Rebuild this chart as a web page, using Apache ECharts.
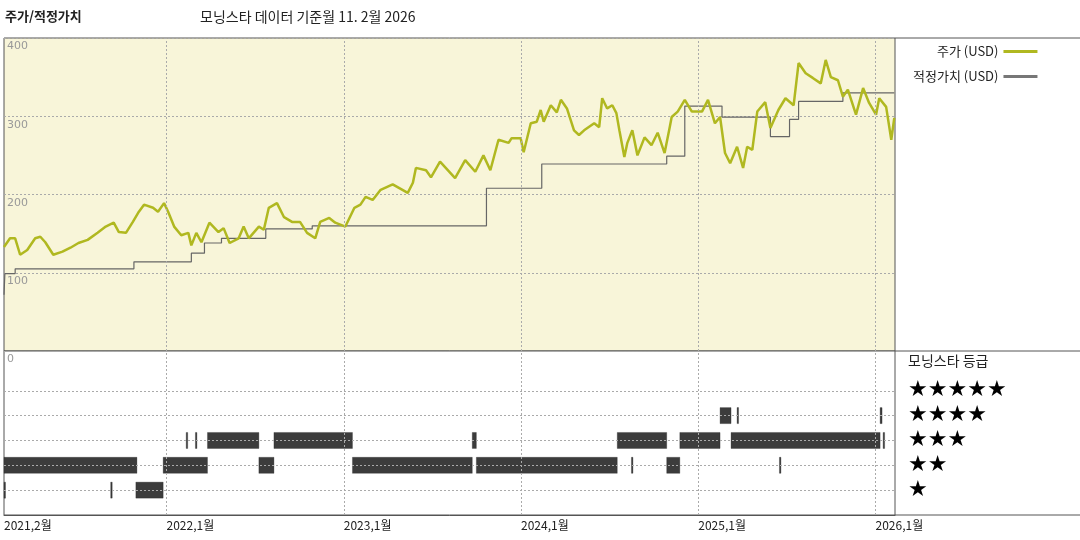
<!DOCTYPE html>
<html>
<head>
<meta charset="utf-8">
<script src="https://cdn.jsdelivr.net/npm/echarts@6/dist/echarts.min.js"></script>
<style>html,body{margin:0;padding:0;background:#fff}#main{width:1080px;height:540px}</style>
</head>
<body>
<div id="main"></div>
<script>
// 시간은 소수 연도 (예: 2021.083 = 2021년 2월 1일)
var xStart = 2021.083, xEnd = 2026.11;
var yearTicks = [2021.083, 2022, 2023, 2024, 2025, 2026];

// 주가 (USD)
var priceT = [2021.083,2021.117,2021.146,2021.174,2021.214,2021.259,2021.288,2021.316,2021.361,2021.413,2021.458,2021.503,2021.555,2021.611,2021.657,2021.702,2021.731,2021.771,2021.810,2021.844,2021.873,2021.924,2021.952,2021.986,2022.009,2022.043,2022.083,2022.123,2022.140,2022.168,2022.197,2022.242,2022.293,2022.322,2022.356,2022.407,2022.435,2022.464,2022.521,2022.549,2022.577,2022.623,2022.663,2022.708,2022.753,2022.793,2022.839,2022.867,2022.918,2022.952,2023.009,2023.060,2023.094,2023.123,2023.163,2023.208,2023.276,2023.361,2023.390,2023.407,2023.464,2023.492,2023.543,2023.628,2023.685,2023.742,2023.788,2023.827,2023.873,2023.930,2023.947,2023.998,2024.015,2024.055,2024.089,2024.111,2024.128,2024.168,2024.202,2024.225,2024.259,2024.299,2024.327,2024.356,2024.413,2024.441,2024.458,2024.486,2024.515,2024.538,2024.555,2024.583,2024.600,2024.628,2024.657,2024.697,2024.736,2024.771,2024.810,2024.839,2024.850,2024.884,2024.924,2024.964,2025.021,2025.055,2025.094,2025.123,2025.151,2025.180,2025.219,2025.253,2025.276,2025.305,2025.333,2025.378,2025.407,2025.452,2025.492,2025.538,2025.566,2025.606,2025.646,2025.691,2025.719,2025.748,2025.788,2025.816,2025.844,2025.890,2025.930,2025.964,2026.003,2026.021,2026.060,2026.089,2026.106];
var priceV = [133,144,144,123,129,144,146,139,123,127,132,138,142,151,159,164,152,151,165,178,187,183,178,189,178,159,148,151,135,151,139,164,152,157,138,144,159,144,159,155,183,189,171,165,165,151,144,165,170,164,159,183,187,197,193,206,213,202,215,234,231,222,242,221,244,229,250,231,270,266,272,272,254,291,293,308,293,314,305,321,310,282,276,282,291,286,323,310,314,304,282,248,266,282,250,273,263,279,253,286,299,306,321,306,306,321,291,299,253,240,261,234,261,257,306,318,285,308,323,314,368,355,349,342,372,350,346,325,334,302,336,317,302,323,312,270,298];

// 적정가치 (USD) - 각 값은 해당 시점부터 적용
var fairT = [2021.083,2021.088,2021.146,2021.816,2022.140,2022.214,2022.310,2022.560,2022.822,2023.805,2024.117,2024.822,2024.924,2025.134,2025.407,2025.515,2025.566,2025.816,2026.106];
var fairV = [72,99,105,114,125,138,144,156,160,208,239,249,313,299,274,296,319,330,330];

// 모닝스타 등급 구간 [시작, 끝, 별 수]
var ratingStart = [2021.083,2021.083,2021.685,2021.827,2021.981,2022.111,2022.163,2022.231,2022.521,2022.606,2023.049,2023.725,2023.748,2024.543,2024.623,2024.822,2024.896,2025.123,2025.219,2025.185,2025.458,2026.026,2026.043];
var ratingEnd   = [2021.090,2021.833,2021.692,2021.981,2022.231,2022.116,2022.168,2022.521,2022.606,2023.049,2023.725,2023.748,2024.543,2024.822,2024.628,2024.896,2025.123,2025.185,2025.224,2026.026,2025.463,2026.037,2026.050];
var ratingStars = [1,2,1,1,2,3,3,3,2,3,2,3,2,3,2,2,3,4,4,3,2,4,3];

var starLabels = ['★★★★★','★★★★','★★★','★★','★'];

var FONT = '"Noto Sans CJK KR", sans-serif';

var priceData = priceT.map(function (t, i) { return [t, priceV[i]]; });
var fairData = fairT.map(function (t, i) { return [t, fairV[i]]; });
var ratingData = ratingStart.map(function (s, i) { return [s, ratingEnd[i], ratingStars[i]]; });

var dotted = {type: [2, 2], color: '#aaa', width: 1};

var chart = echarts.init(document.getElementById('main'));
chart.setOption({
    animation: false,
    textStyle: {fontFamily: FONT},
    grid: [
        {left: 4, right: 185, top: 38, height: 313, show: true, backgroundColor: '#f8f5d9', borderColor: '#555', borderWidth: 1},
        {left: 4, right: 185, top: 351, height: 164, show: true, backgroundColor: '#fff', borderColor: '#555', borderWidth: 1}
    ],
    xAxis: [
        {type: 'value', gridIndex: 0, min: xStart, max: xEnd,
            axisLine: {show: false}, axisTick: {show: false}, axisLabel: {show: false}, splitLine: {show: false}},
        {type: 'value', gridIndex: 1, min: xStart, max: xEnd,
            axisLine: {show: true, lineStyle: {color: '#555'}}, axisTick: {show: false}, splitLine: {show: false},
            axisLabel: {show: true, customValues: yearTicks, color: '#222', fontSize: 12, align: 'left', margin: 4,
                formatter: function (v) { return v < 2022 ? '2021,2월' : Math.round(v) + ',1월'; }}}
    ],
    yAxis: [
        {type: 'value', gridIndex: 0, min: 0, max: 400, interval: 100,
            axisLine: {show: false}, axisTick: {show: false},
            axisLabel: {inside: true, verticalAlign: 'top', color: '#999', fontSize: 11, margin: 3, padding: [3, 0, 0, 0], fontFamily: 'DejaVu Sans'},
            splitLine: {show: true, lineStyle: dotted}},
        {type: 'value', gridIndex: 1, min: 0, max: 6.6,
            axisLine: {show: false}, axisTick: {show: false}, axisLabel: {show: false}, splitLine: {show: false}}
    ],
    legend: {
        show: true, orient: 'vertical', left: 908, top: 40, align: 'right', itemGap: 12,
        itemWidth: 34, itemHeight: 3, selectedMode: false,
        textStyle: {fontSize: 13, color: '#222', fontFamily: FONT},
        data: [
            {name: '주가 (USD)', icon: 'rect', itemStyle: {color: '#b0b820'}},
            {name: '적정가치 (USD)', icon: 'rect', itemStyle: {color: '#777'}}
        ]
    },
    series: [
        {name: '적정가치 (USD)', type: 'line', xAxisIndex: 0, yAxisIndex: 0, data: fairData, step: 'end',
            showSymbol: false, lineStyle: {color: '#666', width: 1.2}, itemStyle: {color: '#777'},
            markLine: {silent: true, symbol: 'none', label: {show: false}, lineStyle: dotted,
                data: [2022, 2023, 2024, 2025, 2026].map(function (v) { return {xAxis: v}; })}},
        {name: '주가 (USD)', type: 'line', xAxisIndex: 0, yAxisIndex: 0, data: priceData,
            showSymbol: false, lineStyle: {color: '#b0b820', width: 2.5}, itemStyle: {color: '#b0b820'}},
        {name: 'rating', type: 'custom', xAxisIndex: 1, yAxisIndex: 1, data: ratingData,
            encode: {x: [0, 1], y: 2},
            renderItem: function (params, api) {
                var p0 = api.coord([api.value(0), api.value(2)]);
                var p1 = api.coord([api.value(1), api.value(2)]);
                var w = Math.max(p1[0] - p0[0], 1.5);
                return {type: 'rect', shape: {x: p0[0], y: p0[1] - 8, width: w, height: 16},
                    style: {fill: '#3c3c3c', stroke: '#222', lineWidth: 0.3}};
            },
            markLine: {silent: true, symbol: 'none', label: {show: false}, lineStyle: dotted,
                data: [1, 2, 3, 4, 5].map(function (v) { return {yAxis: v}; })
                    .concat([2022, 2023, 2024, 2025, 2026].map(function (v) { return {xAxis: v}; }))},
            z: 3}
    ],
    graphic: [
        {type: 'text', left: 5, top: 10, style: {text: '주가/적정가치', font: 'bold 13px ' + FONT, fill: '#222'}},
        {type: 'text', left: 200, top: 10, style: {text: '모닝스타 데이터 기준월 11. 2월 2026', font: '14px ' + FONT, fill: '#222'}},
        {type: 'line', shape: {x1: 895, y1: 38, x2: 1080, y2: 38}, style: {stroke: '#555', lineWidth: 1}},
        {type: 'line', shape: {x1: 895, y1: 351, x2: 1080, y2: 351}, style: {stroke: '#555', lineWidth: 1}},
        {type: 'line', shape: {x1: 895, y1: 515, x2: 1080, y2: 515}, style: {stroke: '#555', lineWidth: 1}},
        {type: 'text', left: 908, top: 354, style: {text: '모닝스타 등급', font: '14px ' + FONT, fill: '#222'}}
    ].concat(starLabels.map(function (s, i) {
        return {type: 'text', left: 908, top: 379 + i * 25, style: {text: s, font: '22px "DejaVu Sans"', fill: '#000'}};
    }))
});
</script>
</body>
</html>
